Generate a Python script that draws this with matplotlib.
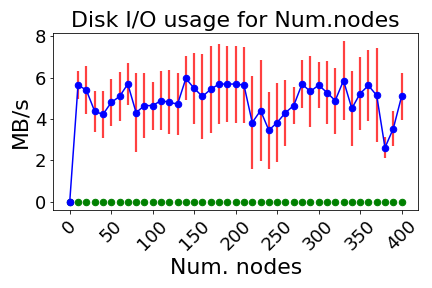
import matplotlib
matplotlib.use('Agg')
import matplotlib.pyplot as plt

nodes = list(range(0, 410, 10))

# mean disk read rate (MB/s) per node count
read_mean = [0.0, 5.64, 5.40, 4.38, 4.22, 4.80, 5.09, 5.69, 4.31, 4.65,
             4.65, 4.89, 4.81, 4.72, 5.96, 5.48, 5.09, 5.44, 5.69, 5.69,
             5.69, 5.64, 3.83, 4.41, 3.46, 3.83, 4.31, 4.65, 5.69, 5.33,
             5.64, 5.28, 4.89, 5.86, 4.51, 5.23, 5.62, 5.14, 2.62, 3.54,
             5.09]
read_std = [0.0, 0.68, 1.16, 0.99, 1.12, 1.14, 1.17, 1.00, 1.90, 1.55,
            1.16, 1.43, 1.55, 1.50, 1.06, 1.70, 2.06, 2.11, 1.92, 1.84,
            1.86, 1.83, 2.24, 2.44, 1.86, 1.90, 1.59, 0.89, 1.16, 1.69,
            1.10, 1.52, 1.59, 1.90, 1.83, 1.76, 1.73, 2.27, 0.50, 0.86,
            1.15]
write_mean = [0.0] * len(nodes)

fig, ax = plt.subplots(figsize=(6, 4), dpi=72)
fig.subplots_adjust(left=0.123, right=0.968, top=0.885, bottom=0.271)

ax.errorbar(nodes, read_mean, yerr=read_std, fmt='none', ecolor='r',
            alpha=0.75, elinewidth=2.2, capsize=0, zorder=1)
ax.plot(nodes, write_mean, 'o', color='g', markersize=6.5, zorder=2)
ax.plot(nodes, read_mean, 'o-', color='b', markersize=6.5, linewidth=1.5, zorder=3)

ax.set_title('Disk I/O usage for Num.nodes', fontsize=22)
ax.set_xlabel('Num. nodes', fontsize=22)
ax.set_ylabel('MB/s', fontsize=22)
ax.set_xticks(range(0, 401, 50))
ax.set_yticks([0, 2, 4, 6, 8])
ax.tick_params(axis='both', labelsize=18)
plt.setp(ax.get_xticklabels(), rotation=45)

fig.savefig('out.png', dpi=72)
